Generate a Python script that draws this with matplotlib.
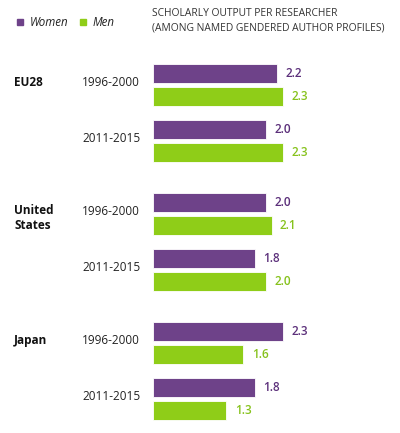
import matplotlib
matplotlib.use('Agg')
import matplotlib.pyplot as plt
import matplotlib.transforms as mtransforms
from matplotlib.patches import Rectangle

plt.rcParams['font.family'] = ['Open Sans', 'DejaVu Sans']

# ── 데이터 ──────────────────────────────────────────
COUNTRIES = ['EU28', 'United\nStates', 'Japan']
PERIODS   = ['1996-2000', '2011-2015']
WOMEN     = [[2.2, 2.0], [2.0, 1.8], [2.3, 1.8]]
MEN       = [[2.3, 2.3], [2.1, 2.0], [1.6, 1.3]]

PURPLE, GREEN = '#6e4289', '#8fcd18'
PURPLE_TXT, GREEN_TXT = '#5b2f7a', '#86c21c'

W, H = 400, 433
fig = plt.figure(figsize=(W / 100, H / 100), dpi=100)
ax = fig.add_axes([153 / W, 0, 1 - 153 / W, 1])
ax.set_xlim(0, 247 / 56.5)
ax.set_ylim(H, 0)   # 세로 위치는 픽셀 단위 레이아웃
ax.axis('off')

BAR_H = 18.5
lab = mtransforms.blended_transform_factory(fig.transFigure, ax.transData)

for c, country in enumerate(COUNTRIES):
    for p, period in enumerate(PERIODS):
        top = 64 + c * 129 + p * 56
        for g, (vals, col, tcol) in enumerate([(WOMEN, PURPLE, PURPLE_TXT),
                                               (MEN, GREEN, GREEN_TXT)]):
            y = top + g * 23 + BAR_H / 2
            v = vals[c][p]
            ax.barh(y, v, height=BAR_H, color=col, edgecolor='white',
                    linewidth=0.6, left=0)
            ax.annotate(f'{v:.1f}', (v, y), xytext=(6, 0),
                        textcoords='offset points', va='center', ha='left',
                        fontsize=8.5, fontweight='semibold', color=tcol)
        mid = top + (23 + BAR_H) / 2 - 2
        ax.text(82 / W, mid, period, transform=lab, fontsize=8.5,
                va='center', ha='left', color='#222222')
    first_mid = 64 + c * 129 + (23 + BAR_H) / 2 - 2
    if '\n' in country:
        ax.text(14 / W, first_mid - 8, country, transform=lab, fontsize=8.5,
                fontweight='bold', va='top', ha='left', color='#111111',
                linespacing=1.25)
    else:
        ax.text(14 / W, first_mid, country, transform=lab, fontsize=8.5,
                fontweight='bold', va='center', ha='left', color='#111111')

# ── 범례 ───────────────────────────────────────────
for x0, col, name in [(17, PURPLE, 'Women'), (80, GREEN, 'Men')]:
    fig.add_artist(Rectangle((x0 / W, 1 - 25 / H), 6 / W, 6 / H,
                             transform=fig.transFigure, color=col))
    fig.text((x0 + 13) / W, 1 - 22 / H, name, fontsize=8.3, style='italic',
             va='center', ha='left', color='#222222')

fig.text(152 / W, 1 - 14 / H, 'SCHOLARLY OUTPUT PER RESEARCHER',
         fontsize=7.4, va='center', ha='left', color='#333333')
fig.text(152 / W, 1 - 28 / H, '(AMONG NAMED GENDERED AUTHOR PROFILES)',
         fontsize=7.4, va='center', ha='left', color='#333333')

fig.savefig('out.png', dpi=100)
